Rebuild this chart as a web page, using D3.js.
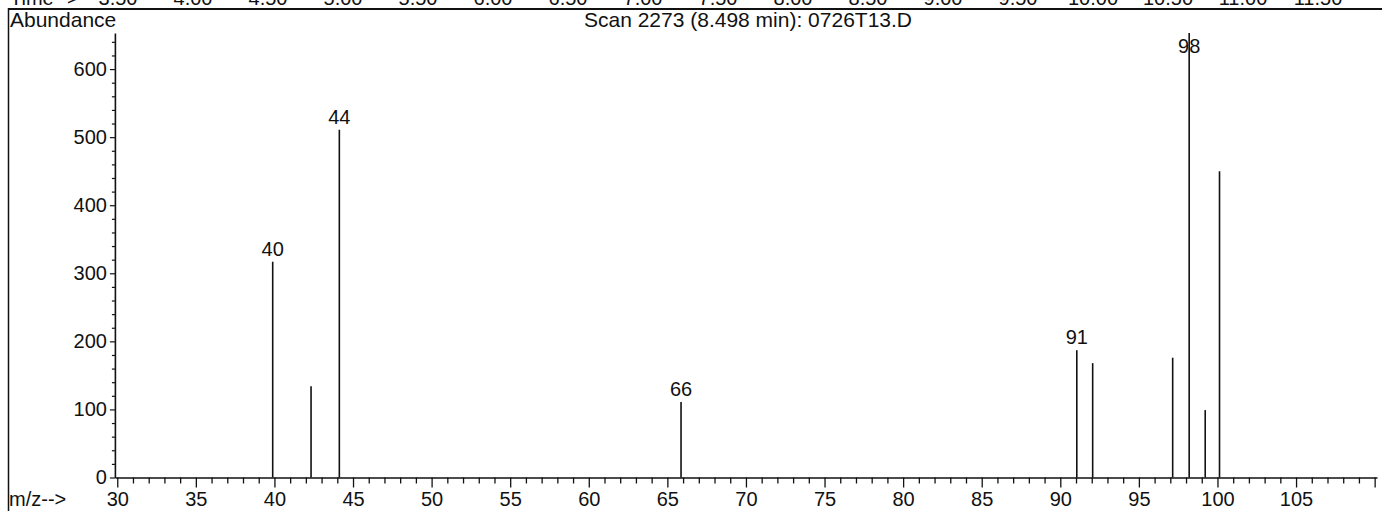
<!DOCTYPE html>
<html><head><meta charset="utf-8">
<script src="https://cdn.jsdelivr.net/npm/d3@7"></script>
<style>
body{margin:0;background:#fff}
svg{display:block}
text{font-family:"Liberation Sans",Arial,sans-serif;fill:#111}
</style>
</head><body>
<svg id="c" width="1382" height="511"></svg>
<script>
// ---- data ----
const mzValues   = [39.89, 42.33, 44.13, 65.87, 91.05, 92.06, 97.15, 98.2, 99.22, 100.13];
const abundances = [317, 134, 511, 111, 187, 168, 176, 653, 99, 450];
const peakLabels = ["40", "", "44", "66", "91", "", "", "98", "", ""];
const mzTicks = d3.range(30, 111, 1);
const mzTickLabels = [30, 35, 40, 45, 50, 55, 60, 65, 70, 75, 80, 85, 90, 95, 100, 105];
const abundanceTicks = d3.range(0, 654, 20);
const abundanceTickLabels = [0, 100, 200, 300, 400, 500, 600];
const timeLabels = ["3.50","4.00","4.50","5.00","5.50","6.00","6.50","7.00","7.50","8.00","8.50","9.00","9.50","10.00","10.50","11.00","11.50"];
const titleText = "Scan 2273 (8.498 min): 0726T13.D";
const yTitle = "Abundance";
const xTitle = "m/z-->";
const timeTitle = "Time-->";

// ---- drawing ----
const svg = d3.select("#c");
const FS = 20;
const ink = "#111";

const x = d3.scaleLinear().domain([29.85, 110.15]).range([114.9, 1377]);
const y = d3.scaleLinear().domain([0, 653]).range([477.5, 33]);
const tScale = d3.scaleLinear().domain([3.5, 11.5]).range([118, 1318]);

// frame lines
svg.append("line").attr("x1", 8.5).attr("x2", 8.5).attr("y1", 8).attr("y2", 511)
  .attr("stroke", ink).attr("stroke-width", 1.5);
svg.append("line").attr("x1", 8).attr("x2", 1382).attr("y1", 9).attr("y2", 9)
  .attr("stroke", ink).attr("stroke-width", 2);

// clipped time strip at the top
svg.append("text").attr("x", 10).attr("y", 5).attr("font-size", FS).text(timeTitle);
svg.selectAll("text.time").data(timeLabels).join("text").attr("class", "time")
  .attr("x", (d) => tScale(+d)).attr("y", 5).attr("text-anchor", "middle")
  .attr("font-size", FS).text(d => d);

// titles
svg.append("text").attr("x", 10).attr("y", 27).attr("font-size", FS + 1).text(yTitle);
svg.append("text").attr("x", 748).attr("y", 27).attr("text-anchor", "middle")
  .attr("font-size", FS + 1).text(titleText);
svg.append("text").attr("x", 9).attr("y", 506).attr("font-size", FS).text(xTitle);

// x axis
const xAxis = svg.append("g").attr("transform", `translate(0,${y(0)})`)
  .call(d3.axisBottom(x).tickValues(mzTicks).tickSizeInner(6).tickSizeOuter(0)
    .tickFormat(d => mzTickLabels.includes(d) ? d : ""));
xAxis.select(".domain").attr("stroke", ink).attr("stroke-width", 1.6);
xAxis.selectAll(".tick line").attr("stroke", ink).attr("stroke-width", 1.3)
  .attr("y2", d => d % 5 === 0 ? 10 : 6);
xAxis.selectAll(".tick text").attr("font-size", FS).attr("fill", ink)
  .attr("font-family", '"Liberation Sans",Arial,sans-serif')
  .attr("dy", null).attr("y", 28.5);

// y axis
const yAxis = svg.append("g").attr("transform", `translate(${x.range()[0]},0)`)
  .call(d3.axisLeft(y).tickValues(abundanceTicks).tickSizeInner(3).tickSizeOuter(0).tickPadding(5)
    .tickFormat(d => abundanceTickLabels.includes(d) ? d : ""));
yAxis.select(".domain").attr("stroke", ink).attr("stroke-width", 1.6);
yAxis.selectAll(".tick line").attr("stroke", ink).attr("stroke-width", 1.2)
  .attr("x2", d => d % 100 === 0 ? -5 : -3);
yAxis.selectAll(".tick text").attr("font-size", FS).attr("fill", ink)
  .attr("font-family", '"Liberation Sans",Arial,sans-serif');

// peaks
const peaks = mzValues.map((m, i) => ({ m, v: abundances[i], label: peakLabels[i] }));
svg.append("g").selectAll("line").data(peaks).join("line")
  .attr("x1", d => x(d.m)).attr("x2", d => x(d.m))
  .attr("y1", y(0)).attr("y2", d => y(d.v))
  .attr("stroke", ink).attr("stroke-width", 1.6);

svg.append("g").selectAll("text").data(peaks.filter(d => d.label)).join("text")
  .attr("x", d => x(d.m)).attr("y", d => Math.max(y(d.v) - 6, 53))
  .attr("text-anchor", "middle").attr("font-size", FS).text(d => d.label);
</script>
</body></html>
